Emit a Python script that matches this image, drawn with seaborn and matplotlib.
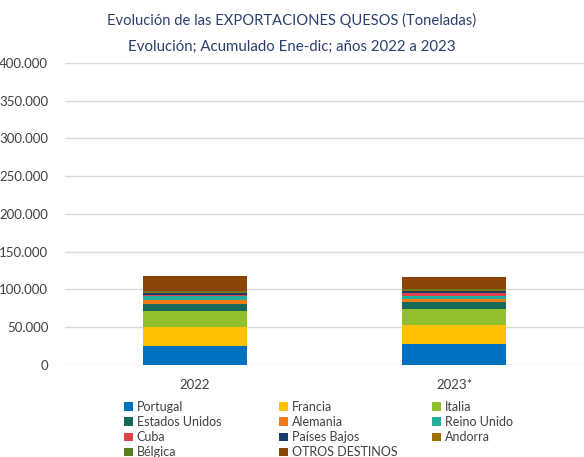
import numpy as np
import pandas as pd
import matplotlib
matplotlib.use('Agg')
import matplotlib.pyplot as plt
import seaborn as sns

# Datos (toneladas)
anios = ['2022', '2023*']
destinos = ['Portugal', 'Francia', 'Italia', 'Estados Unidos', 'Alemania', 'Reino Unido',
            'Cuba', 'Países Bajos', 'Andorra', 'Bélgica', 'OTROS DESTINOS']
valores_2022 = [25200, 25600, 20800, 9300, 4900, 5700, 1800, 2600, 1000, 1600, 19300]
valores_2023 = [27800, 25200, 21200, 8800, 4000, 4800, 4000, 2200, 1200, 1500, 16300]
colores = ['#0070C0', '#FFC000', '#92C02C', '#17695A', '#F07A16', '#22B09C',
           '#E0424C', '#173F6E', '#9A6E00', '#5A7D1E', '#8C4306']

sns.set_style('white')
plt.rcParams['font.family'] = ['Lato', 'DejaVu Sans']

fig = plt.figure(figsize=(5.84, 4.57), dpi=100)
ax = fig.add_axes([0.111, 0.2013, 0.889, 0.661])

base = np.zeros(len(anios))
for destino, v22, v23, c in zip(destinos, valores_2022, valores_2023, colores):
    vals = np.array([v22, v23])
    sns.barplot(x=anios, y=vals, bottom=base, color=c, saturation=1, width=0.4,
                label=destino, ax=ax, linewidth=0)
    base = base + vals

ax.set_ylim(0, 400000)
ax.set_xlim(-0.5, 1.5)
ax.set_yticks(np.arange(0, 400001, 50000))
ax.set_yticklabels([f'{int(t):,}'.replace(',', '.') for t in np.arange(0, 400001, 50000)])
ax.yaxis.grid(True, color='#D9D9D9', linewidth=1)
ax.set_axisbelow(True)
for s in ax.spines.values():
    s.set_visible(False)
ax.tick_params(axis='both', length=0, labelsize=9.5, colors='#404040')
ax.tick_params(axis='y', pad=12)
ax.tick_params(axis='x', pad=10)
ax.set_xlabel('')
ax.set_ylabel('')

fig.text(0.5, 0.956, 'Evolución de las EXPORTACIONES QUESOS (Toneladas)', ha='center', va='center',
         fontsize=10.6, color='#2A3F6E')
fig.text(0.5, 0.898, 'Evolución; Acumulado Ene-dic; años 2022 a 2023', ha='center', va='center',
         fontsize=10.8, color='#2A3F6E')

# leyenda en tres columnas, ordenada por filas
handles, labels = ax.get_legend_handles_labels()
if ax.get_legend() is not None:
    ax.get_legend().remove()
columnas = [[0, 3, 6, 9], [1, 4, 7, 10], [2, 5, 8]]
xs = [0.202, 0.4675, 0.7295]
for idx, x0 in zip(columnas, xs):
    fig.legend([handles[i] for i in idx], [labels[i] for i in idx], ncol=1,
               loc='upper left', bbox_to_anchor=(x0, 0.136), frameon=False,
               fontsize=9, labelcolor='#404040', handlelength=0.7, handleheight=0.7,
               handletextpad=0.3, labelspacing=0.25, borderpad=0)

fig.savefig('out.png', dpi=100)
